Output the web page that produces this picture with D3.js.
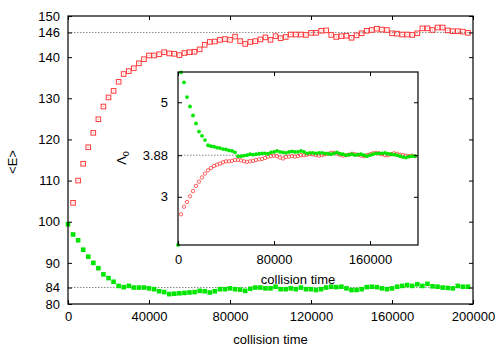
<!DOCTYPE html>
<html>
<head>
<meta charset="utf-8">
<script src="https://d3js.org/d3.v7.min.js"></script>
<style>
  body { margin: 0; background: #fff; }
  text { font-family: "Liberation Sans", Arial, sans-serif; font-size: 13px; fill: #000; }
  .tick line { stroke: #000; stroke-width: 1; }
</style>
</head>
<body>
<svg id="chart" width="498" height="349"></svg>
<script>
// sampling interval of the simulation output (collision time)
var sampleStep = 2500;
var sampleCount = 80;

// main panel: <E> of the two groups (null = point hidden under the other series)
var energyUp = [null, 104.6, 110, 114.1, 118.1, 121.6, 124.9, 128.0, 130.2, 131.8,
  134.0, 135.9, 136.6, 137.3, 138.5, 139.5, 140.4, 140.4, 140.7, 141.2,
  140.9, 140.8, 140.5, 141.0, 141.2, 141.3, 141.9, 143.0, 143.7, 143.8,
  144.2, 144.4, 144.2, 145.0, 143.9, 143.2, 143.7, 143.9, 144.3, 144.8,
  144.2, 145.1, 144.6, 144.9, 145.5, 145.5, 145.5, 145.4, 145.9, 145.9,
  146.4, 146.5, 145.4, 144.9, 145.1, 145.2, 144.7, 145.3, 145.8, 146.4,
  146.6, 146.9, 146.7, 146.6, 145.8, 145.7, 145.5, 145.5, 145.4, 145.8,
  147.0, 147.0, 146.6, 147.2, 147.2, 146.5, 146.3, 146.3, 146.2, 145.9];
var energyDown = [99.4, 96.9, 95.5, 93.2, 91.5, 90.0, 88.7, 87.2, 86.3, 85.4,
  84.4, 84.1, 84.4, 84.0, 84.0, 84.0, 83.8, 83.6, 83.1, 82.9,
  82.4, 82.5, 82.6, 82.7, 82.8, 82.9, 83.2, 83.1, 82.8, 83.1,
  83.6, 83.6, 83.8, 83.6, 83.5, 83.2, 83.7, 84.0, 84.0, 83.8,
  83.8, 84.2, 83.6, 83.6, 83.8, 83.6, 84.0, 83.6, 83.6, 83.4,
  83.6, 84.0, 84.2, 84.1, 84.2, 83.8, 83.4, 83.4, 83.6, 84.1,
  84.2, 84.1, 83.8, 83.6, 83.8, 84.2, 84.4, 84.6, 84.4, 84.8,
  84.4, 84.9, 84.3, 84.2, 84.0, 83.9, 83.8, 84.4, 84.2, 84.2];

// inset: Lambda_0
var lambdaUp = [null, 2.63, 2.79, 2.89, 3.01, 3.12, 3.23, 3.32, 3.41, 3.49,
  3.56, 3.61, 3.65, 3.68, 3.70, 3.73, 3.75, 3.75, 3.76, 3.78,
  3.78, 3.77, 3.75, 3.74, 3.75, 3.76, 3.78, 3.79, 3.80, 3.82,
  3.85, 3.86, 3.87, 3.86, 3.83, 3.81, 3.84, 3.85, 3.86, 3.85,
  3.86, 3.88, 3.88, 3.89, 3.91, 3.90, 3.88, 3.87, 3.88, 3.90,
  3.91, 3.93, 3.93, 3.92, 3.89, 3.87, 3.88, 3.89, 3.91, 3.90,
  3.89, 3.87, 3.86, 3.88, 3.90, 3.92, 3.93, 3.92, 3.90, 3.88,
  3.88, 3.90, 3.92, 3.91, 3.89, 3.88, 3.87, 3.86, 3.87, 3.86];
var lambdaDown = [1.98, 5.63, 5.42, 5.11, 4.91, 4.72, 4.55, 4.38, 4.29, 4.20,
  4.09, 4.07, 4.06, 4.04, 4.03, 4.01, 4.00, 3.98, 3.97, 3.94,
  3.86, 3.86, 3.87, 3.88, 3.90, 3.89, 3.90, 3.91, 3.92, 3.92,
  3.91, 3.94, 3.95, 3.97, 3.95, 3.94, 3.93, 3.95, 3.96, 3.95,
  3.95, 3.97, 3.95, 3.92, 3.93, 3.93, 3.92, 3.93, 3.93, 3.92,
  3.91, 3.90, 3.92, 3.94, 3.91, 3.90, 3.88, 3.89, 3.90, 3.88,
  3.89, 3.90, 3.88, 3.86, 3.88, 3.90, 3.92, 3.92, 3.92, 3.93,
  3.91, 3.90, 3.89, 3.88, 3.86, 3.84, 3.83, 3.85, 3.86, 3.86];

var mainXTicks = [0, 40000, 80000, 120000, 160000, 200000];
var mainYTicks = [80, 84, 90, 100, 110, 120, 130, 140, 146, 150];
var mainRefLines = [146, 84];
var insetXTicks = [0, 80000, 160000];
var insetYTicks = [3, 3.88, 5];
var insetRefLines = [3.88];

var times = d3.range(sampleCount).map(function (i) { return i * sampleStep; });

function points(vals) {
  return vals.map(function (v, i) { return { t: times[i], v: v }; })
    .filter(function (d) { return d.v != null; });
}

var svg = d3.select("#chart");
var red = "#ff3b3b", green = "#00e600";

var main = { left: 68, top: 16, right: 473, bottom: 304 };
var inset = { left: 178, top: 72, right: 418, bottom: 245 };

var x = d3.scaleLinear().domain([0, 200000]).range([main.left, main.right]);
var y = d3.scaleLinear().domain([80, 150]).range([main.bottom, main.top]);
var xi = d3.scaleLinear().domain([0, 200000]).range([inset.left, inset.right]);
var yi = d3.scaleLinear().domain([1.98, 5.64]).range([inset.bottom, inset.top]);

function frame(box, xs, ys, xt, yt, pad) {
  var g = svg.append("g");
  g.append("g").attr("transform", "translate(0," + box.bottom + ")")
    .call(d3.axisBottom(xs).tickValues(xt).tickSizeInner(-4).tickSizeOuter(0)
      .tickPadding(pad).tickFormat(function (d) { return String(d); }));
  g.append("g").attr("transform", "translate(0," + box.top + ")")
    .call(d3.axisTop(xs).tickValues(xt).tickSizeInner(-4).tickSizeOuter(0).tickFormat(""));
  g.append("g").attr("transform", "translate(" + box.left + ",0)")
    .call(d3.axisLeft(ys).tickValues(yt).tickSizeInner(-4).tickSizeOuter(0)
      .tickPadding(pad).tickFormat(function (d) { return String(d); }));
  g.append("g").attr("transform", "translate(" + box.right + ",0)")
    .call(d3.axisRight(ys).tickValues(yt).tickSizeInner(-4).tickSizeOuter(0).tickFormat(""));
  g.selectAll(".domain").remove();
  g.selectAll(".tick text").attr("font-size", 13)
    .attr("font-family", "'Liberation Sans', Arial, sans-serif");
  g.append("rect").attr("x", box.left).attr("y", box.top)
    .attr("width", box.right - box.left).attr("height", box.bottom - box.top)
    .attr("fill", "none").attr("stroke", "#000").attr("stroke-width", 1.2);
}

function refLines(vals, xs, ys) {
  svg.append("g").selectAll("line").data(vals).join("line")
    .attr("x1", xs.range()[0]).attr("x2", xs.range()[1])
    .attr("y1", function (d) { return ys(d); }).attr("y2", function (d) { return ys(d); })
    .attr("stroke", "#8a8a8a").attr("stroke-width", 1).attr("stroke-dasharray", "1.5,1.5");
}

// ---- main panel
refLines(mainRefLines, x, y);

var s = 4.6;
svg.append("g").selectAll("rect").data(points(energyUp)).join("rect")
  .attr("x", function (d) { return x(d.t) - s / 2; })
  .attr("y", function (d) { return y(d.v) - s / 2; })
  .attr("width", s).attr("height", s)
  .attr("fill", "none").attr("stroke", red).attr("stroke-width", 1);
svg.append("g").selectAll("circle").data(points(energyUp)).join("circle")
  .attr("cx", function (d) { return x(d.t); })
  .attr("cy", function (d) { return y(d.v); })
  .attr("r", 0.5).attr("fill", "#f77");

svg.append("g").selectAll("rect").data(points(energyDown)).join("rect")
  .attr("x", function (d) { return x(d.t) - s / 2; })
  .attr("y", function (d) { return y(d.v) - s / 2; })
  .attr("width", s).attr("height", s).attr("fill", green);

frame(main, x, y, mainXTicks, mainYTicks, 8);

// ---- inset
svg.append("rect").attr("x", inset.left).attr("y", inset.top)
  .attr("width", inset.right - inset.left).attr("height", inset.bottom - inset.top)
  .attr("fill", "#fff");
refLines(insetRefLines, xi, yi);

svg.append("g").selectAll("circle").data(points(lambdaUp)).join("circle")
  .attr("cx", function (d) { return xi(d.t); })
  .attr("cy", function (d) { return yi(d.v); })
  .attr("r", 1.7).attr("fill", "none").attr("stroke", red).attr("stroke-width", 0.8);
svg.append("g").selectAll("circle").data(points(lambdaDown)).join("circle")
  .attr("cx", function (d) { return xi(d.t); })
  .attr("cy", function (d) { return yi(d.v); })
  .attr("r", 1.9).attr("fill", green);

frame(inset, xi, yi, insetXTicks, insetYTicks, 10);

// ---- axis titles
svg.append("text").attr("x", (main.left + main.right) / 2).attr("y", 344)
  .attr("text-anchor", "middle").attr("font-size", 14).text("collision time");
svg.append("text").attr("transform", "translate(16.5," + 162 + ") rotate(-90)")
  .attr("text-anchor", "middle").attr("font-size", 14).text("<E>");
svg.append("text").attr("x", (inset.left + inset.right) / 2).attr("y", 284)
  .attr("text-anchor", "middle").attr("font-size", 14).text("collision time");
var lam = svg.append("text").attr("transform", "translate(126," + 158 + ") rotate(-90)")
  .attr("text-anchor", "middle").attr("font-size", 14);
lam.append("tspan").text("\u039B");
lam.append("tspan").attr("dy", 3).attr("font-size", 9).text("0");
</script>
</body>
</html>
